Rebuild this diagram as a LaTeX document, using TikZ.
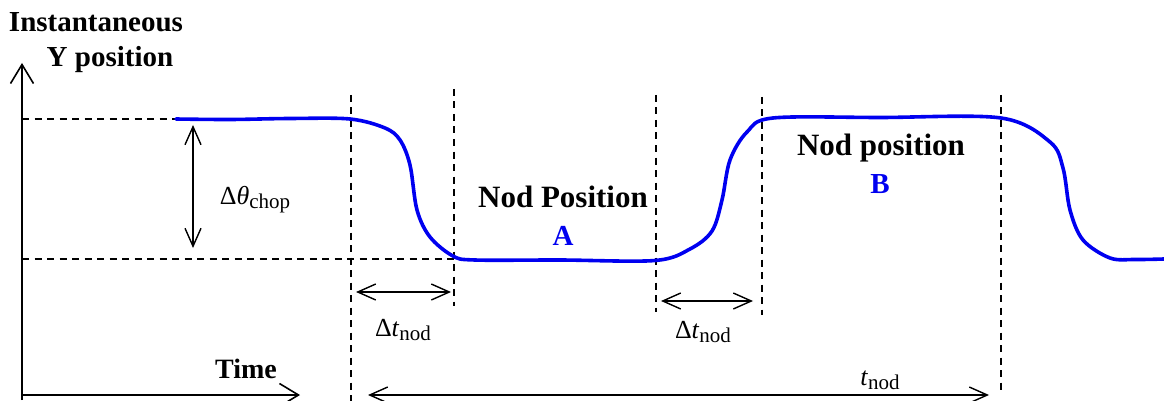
\documentclass[tikz,border=0pt]{standalone}
\usepackage{fontspec}
\setmainfont{Liberation Serif}
\usetikzlibrary{arrows.meta}
\newcommand{\fs}[1]{\fontsize{#1}{#1}\selectfont}
\newcommand{\dlbl}[2]{\fs{26}Δ\textit{#1}\raisebox{-4pt}{\fs{21}#2}}
\begin{document}
\begin{tikzpicture}[x=1pt,y=-1pt,
  axis/.style={line width=1.8pt,-{Straight Barb[length=19pt,width=23pt,line width=1.6pt]}},
  dim/.style={line width=1.4pt,{Straight Barb[length=18pt,width=16pt,line width=1.4pt]}-{Straight Barb[length=18pt,width=16pt,line width=1.4pt]}},
  guide/.style={line width=1.4pt,dash pattern=on 7pt off 5.5pt},
  curve/.style={line width=3.6pt,color={rgb,255:red,0;green,0;blue,240},line cap=round,line join=round},
  btext/.style={font=\bfseries\fs{#1},inner sep=0pt,anchor=base},
  mtext/.style={inner sep=0pt,anchor=base}]
\useasboundingbox (0,0) rectangle (1164,401);
% axes
\coordinate (o) at (22,400);
\coordinate (ytip) at (22,63);
\coordinate (xo) at (22,395);
\coordinate (xtip) at (300,395);
\draw[axis] (o) -- (ytip);
\draw[axis] (xo) -- (xtip);
% horizontal guides
\coordinate (hu1) at (22,119); \coordinate (hu2) at (224,119);
\coordinate (hl1) at (22,259); \coordinate (hl2) at (455,259);
\draw[guide] (hu1) -- (hu2);
\draw[guide] (hl1) -- (hl2);
% vertical guides
\coordinate (v1t) at (351,95);  \coordinate (v1b) at (351,401);
\coordinate (v2t) at (454,89);  \coordinate (v2b) at (454,306);
\coordinate (v3t) at (656,95);  \coordinate (v3b) at (656,312);
\coordinate (v4t) at (762,97);  \coordinate (v4b) at (762,315);
\coordinate (v5t) at (1001,95); \coordinate (v5b) at (1001,393);
\foreach \t/\b in {v1t/v1b,v2t/v2b,v3t/v3b,v4t/v4b,v5t/v5b}
  \draw[guide] (\t) -- (\b);
% blue signal
\draw[curve] plot[smooth,tension=0.55] coordinates {
 (176,119) (230,119.5) (290,118.5) (350,119) (385,128) (400,140) (410,165)
 (417,210) (430,237) (453,256) (475,260) (560,260) (655,260.5)
 (690,249) (712,231) (722,200) (730,160) (747,132) (773,118) (880,117.5)
 (1001,118) (1050,142) (1063,168) (1070,210) (1083,240) (1110,258)
 (1135,259.5) (1164,259)};
% dimension arrows
\coordinate (dta) at (193,125); \coordinate (dtb) at (193,248);
\draw[dim] (dta) -- (dtb);
\coordinate (n1a) at (356,292); \coordinate (n1b) at (451,292);
\draw[dim] (n1a) -- (n1b);
\coordinate (n2a) at (661,301); \coordinate (n2b) at (753,301);
\draw[dim] (n2a) -- (n2b);
\coordinate (tna) at (368,395); \coordinate (tnb) at (989,395);
\draw[dim] (tna) -- (tnb);
% labels
\node[btext=29] (inst) at (96,32) {Instantaneous};
\node[btext=29] (ypos) at (110,67) {Y position};
\node[btext=28] (time) at (246,378) {Time};
\node[btext=31] (npa) at (563,207) {Nod Position};
\node[btext=29,text={rgb,255:red,0;green,0;blue,240}] (la) at (563,245) {A};
\node[btext=31] (npb) at (881,155) {Nod position};
\node[btext=29,text={rgb,255:red,0;green,0;blue,240}] (lb) at (880,193) {B};
\node[mtext] (dth) at (255,204) {\dlbl{θ}{chop}};
\node[mtext] (dt1) at (403,336) {\dlbl{t}{nod}};
\node[mtext] (dt2) at (703,338) {\dlbl{t}{nod}};
\node[mtext] (tn) at (880,385) {\fs{26}\textit{t}\raisebox{-4pt}{\fs{21}nod}};
\end{tikzpicture}
\end{document}
